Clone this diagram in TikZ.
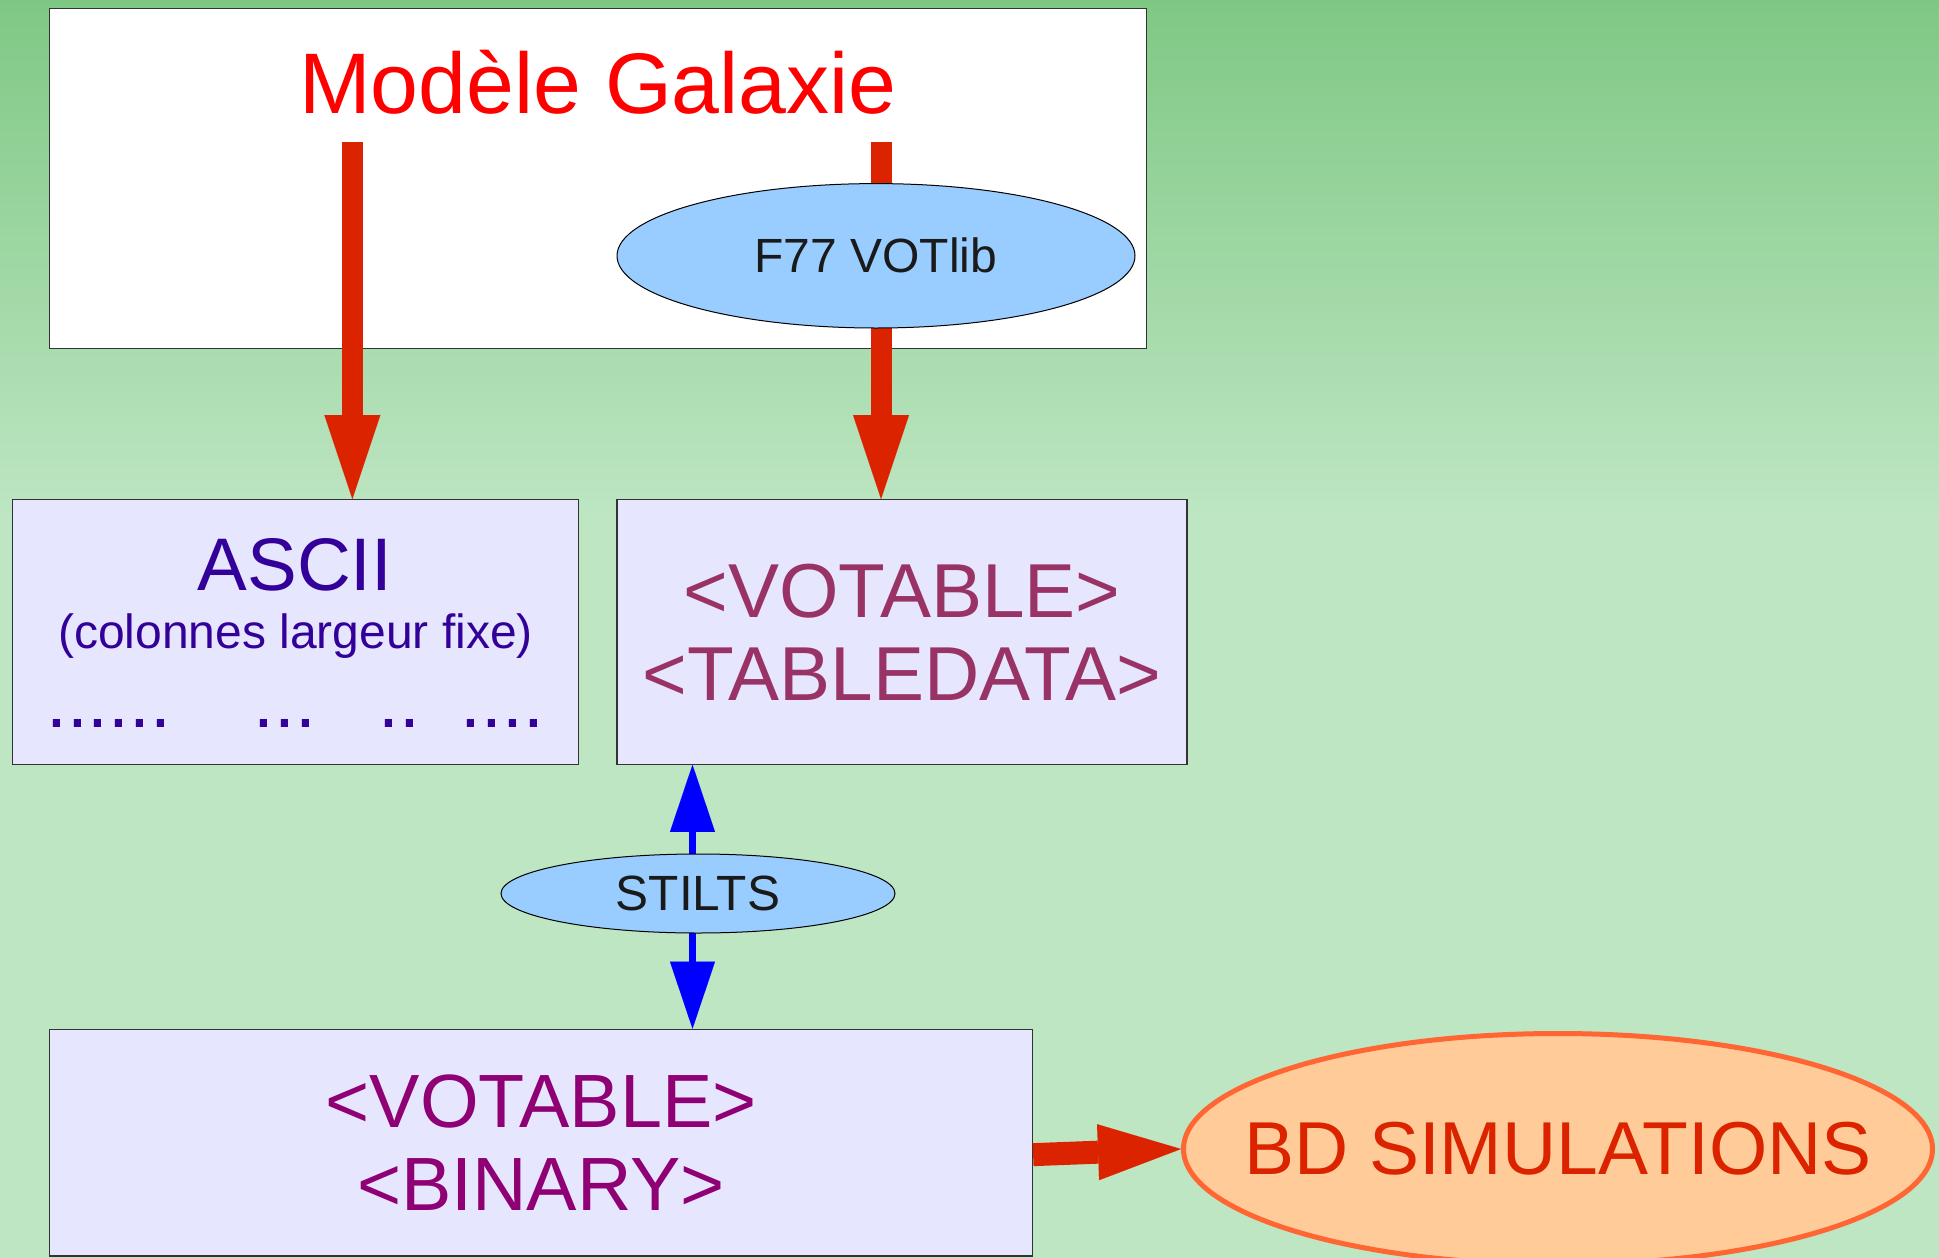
\documentclass[tikz,border=0pt]{standalone}
\usepackage{fontspec}
\setmainfont{Liberation Sans}
\usetikzlibrary{arrows.meta,shapes.geometric}

\definecolor{bgtop}{HTML}{7FC884}
\definecolor{bgbot}{HTML}{BEE6C3}
\definecolor{boxfill}{HTML}{E6E6FF}
\definecolor{boxline}{HTML}{333333}
\definecolor{arrowred}{HTML}{DC2300}
\definecolor{toolblue}{HTML}{99CCFF}
\definecolor{asciiink}{HTML}{330099}
\definecolor{tdink}{HTML}{993366}
\definecolor{binink}{HTML}{8E0073}
\definecolor{dbline}{HTML}{FF6633}
\definecolor{dbfill}{HTML}{FFCC99}
\definecolor{darkink}{HTML}{1A1A1A}

\newcommand{\setfs}[1]{\fontsize{#1}{#1}\selectfont}

\begin{document}
\begin{tikzpicture}[x=1pt,y=-1pt,
  panel/.style={rectangle, draw=boxline, line width=1.2pt, fill=boxfill, inner sep=0pt},
  tool/.style={ellipse, draw=black, line width=1pt, fill=toolblue, inner sep=0pt, text=darkink},
  label/.style={inner sep=0pt},
  redarrow/.style={draw=arrowred, line width=21pt,
    -{Triangle[width=56pt,length=84pt,line width=0.01pt]}},
  bluearrow/.style={draw=blue, line width=7pt,
    -{Triangle[width=45pt,length=67pt,line width=0.01pt]}}]

\useasboundingbox (0,0) rectangle (1939,1258);

% background: green gradient fading into a pale green
\shade[top color=bgtop, bottom color=bgbot] (0,0) rectangle (1939,521);
\fill[bgbot] (0,520) rectangle (1939,1258);

% source model
\node[panel, fill=white, minimum width=1096.8pt, minimum height=340.2pt] (model) at (597.9,178.6) {};
\node[label, anchor=base, text=red] (title) at (598,113.3) {\setfs{86}Modèle Galaxie};

% output formats
\node[panel, minimum width=566.3pt, minimum height=264.6pt] (ascii) at (295.55,631.9) {};
\node[label, anchor=base, text=asciiink] (asciititle) at (295,590) {\setfs{74.5}ASCII};
\node[label, anchor=base, text=asciiink] (asciinote) at (295.5,648) {\setfs{48}(colonnes largeur fixe)};
\node[label, anchor=base west, text=asciiink] (asciidots) at (46,727)
  {\setfs{75}......\hspace{82.6pt}...\hspace{62.3pt}..\hspace{40.5pt}....};

\node[panel, minimum width=570pt, minimum height=264.6pt, align=center, text=tdink,
  font=\fontsize{76.5}{83}\selectfont] (tab) at (902,631.9) {<VOTABLE>\\<TABLEDATA>};

\node[panel, minimum width=983pt, minimum height=226.7pt, align=center, text=binink,
  font=\fontsize{75.5}{83.3}\selectfont] (bin) at (541,1142.65) {<VOTABLE>\\<BINARY>};

% model outputs
\coordinate (la) at (352.4,142);
\coordinate (ra) at (881,142);
\draw[redarrow] (la) -- (la |- ascii.north);
\draw[redarrow] (ra) -- (ra |- tab.north);
\node[tool, minimum width=518pt, minimum height=144.4pt] (votlib) at (876,255.8) {\setfs{48}F77 VOTlib};

% conversion both ways
\coordinate (bx) at (692.5,893.5);
\draw[bluearrow] (bx) -- (bx |- tab.south);
\draw[bluearrow] (bx) -- (bx |- bin.north);
\node[tool, minimum width=394pt, minimum height=79pt] (stilts) at (698,893.5) {\setfs{49.5}STILTS};

% database
\node[ellipse, draw=dbline, line width=5pt, fill=dbfill, inner sep=0pt,
  minimum width=749pt, minimum height=231pt] (bd) at (1558,1149) {};
\node[label, text=arrowred] (bdtext) at (bd.center) {\setfs{75}BD SIMULATIONS};
\draw[redarrow, line width=23pt, -{Triangle[width=56pt,length=83pt,line width=0.01pt]}]
  ([yshift=-12pt]bin.east) -- (bd.west);

\end{tikzpicture}
\end{document}
